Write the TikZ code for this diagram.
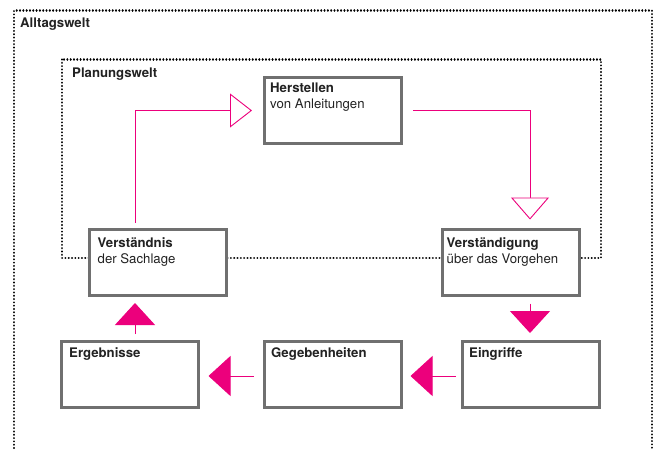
\documentclass[tikz,border=0pt]{standalone}
\usepackage{fontspec}
\setmainfont{TeX Gyre Heros}
\usetikzlibrary{arrows.meta}
\definecolor{pinkc}{RGB}{236,0,124}
\definecolor{boxgray}{RGB}{112,112,112}
\definecolor{ink}{RGB}{34,34,34}
\begin{document}
\begin{tikzpicture}[x=1pt,y=-1pt,
  stepbox/.style={draw=boxgray, line width=3pt, fill=white, inner sep=0pt,
    minimum width=137pt, minimum height=66pt},
  boxtext/.style={anchor=base west, inner sep=0pt, align=left, text=ink,
    font=\fontsize{13.2}{16}\selectfont},
  zone/.style={draw=black, line width=2.2pt, line cap=round,
    dash pattern=on 0.01pt off 3.3pt},
  solidhead/.style={draw=pinkc, line width=1pt,
    -{Triangle[width=40pt,length=22pt]}},
  openhead/.style={draw=pinkc, line width=0.9pt,
    -{Triangle[open,width=#1,length=22pt,fill=white]}},
]
\useasboundingbox (0,0) rectangle (659,448);

% the two worlds
\draw[zone] (14,448) -- (14,10.5) -- (652,10.5) -- (652,448);
\node[boxtext, font=\fontsize{13.2}{16}\selectfont\bfseries] (alltag) at (20,27.5) {Alltagswelt};
\draw[zone] (62,59.5) rectangle (601,258);
\node[boxtext, font=\fontsize{13.2}{16}\selectfont\bfseries] (planung) at (72,77) {Planungswelt};

% process steps
\node[stepbox] (her) at (332.5,110.5) {};
\node[stepbox] (vst) at (158,262.5) {};
\node[stepbox] (vgg) at (510.5,262.5) {};
\node[stepbox] (erg) at (130,374) {};
\node[stepbox] (geg) at (333,374) {};
\node[stepbox] (ein) at (531,374) {};

% labels (two-line labels sit on the baseline of their second line)
\node[boxtext] (herT) at (270,108) {\textbf{Herstellen}\\von Anleitungen};
\node[boxtext] (vstT) at (97.5,263) {\textbf{Verständnis}\\der Sachlage};
\node[boxtext] (vggT) at (446.5,263) {\textbf{Verständigung}\\über das Vorgehen};
\node[boxtext] (ergT) at (69,357) {\textbf{Ergebnisse}};
\node[boxtext] (gegT) at (271,357) {\textbf{Gegebenheiten}};
\node[boxtext] (einT) at (469,357) {\textbf{Eingriffe}};

% guide columns and rows for the connectors
\coordinate (colL) at (135,0);
\coordinate (colR) at (530,0);
\coordinate (rowB) at (0,376);

% planning loop (open heads)
\draw[openhead=34pt, shorten <=5.5pt, shorten >=10.5pt]
  (colL |- vst.north) |- (her.west);
\draw[openhead=38pt, shorten <=10.5pt, shorten >=8.5pt]
  (her.east) -| (colR |- vgg.north);

% action chain (solid heads)
\draw[solidhead, shorten <=6.5pt, shorten >=6.5pt]
  (colR |- vgg.south) -- (colR |- ein.north);
\draw[solidhead, shorten <=5.5pt, shorten >=7.5pt]
  (ein.west |- rowB) -- (geg.east |- rowB);
\draw[solidhead, shorten <=9.5pt, shorten >=8.5pt]
  (geg.west |- rowB) -- (erg.east |- rowB);
\draw[solidhead, shorten <=5.5pt, shorten >=6pt]
  (colL |- erg.north) -- (colL |- vst.south);
\end{tikzpicture}
\end{document}
